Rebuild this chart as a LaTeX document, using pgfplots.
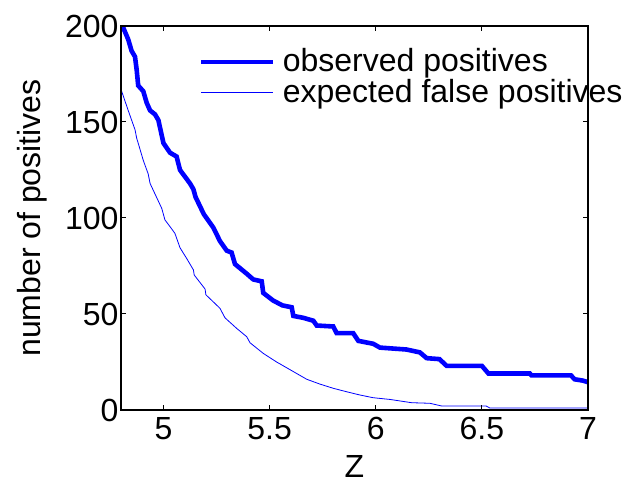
\documentclass[border=0pt]{standalone}
\usepackage{fontspec}
\setmainfont{Liberation Sans}
\usepackage{pgfplots}
\pgfplotsset{compat=1.18}
\definecolor{mblue}{RGB}{0,0,255}
\newcommand{\mfont}{\fontsize{32bp}{38bp}\selectfont}
\begin{document}
\begin{tikzpicture}
\useasboundingbox (-121bp,-81bp) rectangle (507bp,410bp);
\begin{axis}[
    scale only axis,
    width=467bp, height=384bp,
    xmin=4.8, xmax=7, ymin=0, ymax=200,
    xtick={5,5.5,6,6.5,7},
    ytick={0,50,100,150,200},
    tick align=inside,
    tick pos=both,
    major tick length=5bp,
    axis line style={line width=1.3bp, black},
    every tick/.style={line width=1bp, black},
    axis on top,
    /pgf/number format/assume math mode=true,
    tick label style={font=\mfont},
    xticklabel style={yshift=-4bp},
    yticklabel style={xshift=1bp},
    xlabel={Z},
    ylabel={number of positives},
    label style={font=\mfont},
    xlabel style={at={(axis description cs:0.5,0)}, anchor=base, yshift=-67bp},
    ylabel style={at={(axis description cs:0,0.5)}, anchor=base, yshift=80bp},
    legend style={draw=none, fill=none, font=\mfont, inner sep=0pt,
        at={(axis description cs:0.167,0.9357)}, anchor=north west,
        cells={anchor=base west},
        nodes={inner sep=0pt, text height=21bp, text depth=10bp},
        row sep=0pt, column sep=7bp},
    legend image code/.code={\draw[#1] (0bp,10bp) -- (72bp,10bp);},
]
\addplot[mblue, line width=4.6bp] coordinates {
(4.800,200) (4.811,199) (4.834,193) (4.850,187) (4.866,184) (4.874,177)
(4.881,169) (4.905,166) (4.921,160) (4.937,156) (4.960,154) (4.976,151)
(4.990,144) (5.000,139) (5.031,134) (5.062,132) (5.078,125) (5.125,118)
(5.141,115) (5.151,111) (5.190,102) (5.235,95) (5.266,88) (5.298,83)
(5.321,82) (5.337,76) (5.392,71) (5.423,68) (5.463,67) (5.470,61)
(5.517,57) (5.560,54.5) (5.604,53.5) (5.612,49) (5.659,48) (5.706,46.5)
(5.722,44) (5.800,43.5) (5.816,40) (5.894,40) (5.918,36) (5.988,34.5)
(6.020,32.5) (6.145,31.5) (6.208,30) (6.240,27) (6.300,26.5) (6.334,23)
(6.500,23) (6.531,19) (6.726,19) (6.734,18) (6.920,18) (6.937,16)
(6.976,15.3) (7.000,14.5)
};
\addlegendentry{observed positives}
\addplot[mblue, line width=0.8bp] coordinates {
(4.800,167) (4.834,156) (4.866,146) (4.874,141.5) (4.881,139) (4.905,130)
(4.928,123) (4.937,118) (4.992,105) (5.007,99) (5.031,95.5) (5.054,92)
(5.078,84.5) (5.109,79) (5.141,73) (5.145,70.3) (5.196,63) (5.200,60)
(5.266,53) (5.290,48) (5.345,42.5) (5.392,38.2) (5.408,35) (5.470,29.5)
(5.533,25) (5.549,24) (5.612,20) (5.675,16) (5.737,13.5) (5.800,11.3)
(5.863,9.5) (5.926,7.8) (5.988,6.4) (6.067,5.5) (6.169,3.8) (6.255,3.5)
(6.310,2.1) (6.520,2.1) (6.538,1.0) (7.000,1.0)
};
\addlegendentry{expected false positives}
\end{axis}
\end{tikzpicture}
\end{document}
